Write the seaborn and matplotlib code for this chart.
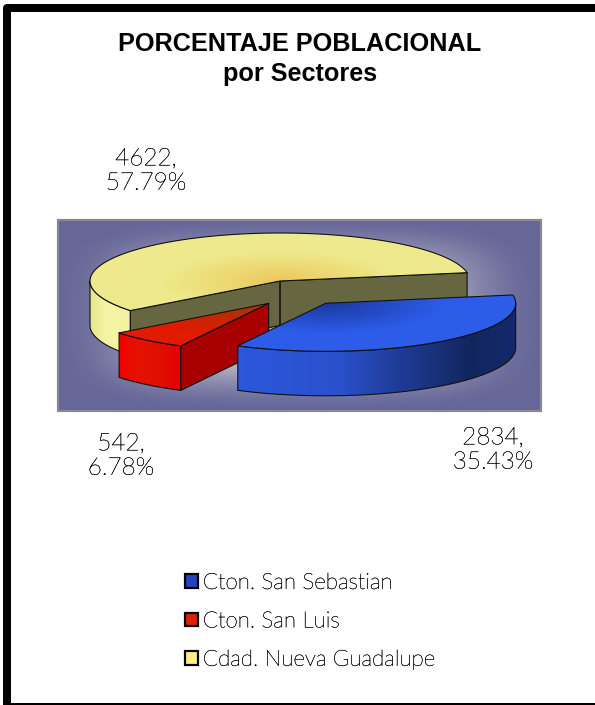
import numpy as np
import matplotlib
matplotlib.use("Agg")
import matplotlib.pyplot as plt
import matplotlib.patheffects as pe
from matplotlib.colors import to_rgb
from matplotlib.patches import Polygon, Patch
import seaborn as sns

# ---- data ----
sectors = ["Cton. San Sebastian", "Cton. San Luis", "Cdad. Nueva Guadalupe"]
population = [2834, 542, 4622]
legend_colors = ["#2244BB", "#DD2200", "#FFEE88"]

sns.set_theme(style="white", rc={"axes.grid": False})
palette = sns.color_palette(legend_colors)
LABEL_FONT = {"family": "Lato", "weight": "light"}
INK = [pe.withStroke(linewidth=0.22, foreground="black")]

W, H = 595, 705
fig = plt.figure(figsize=(W / 100, H / 100), dpi=100, facecolor="white")
ax = fig.add_axes([0, 0, 1, 1])
ax.set_xlim(0, W)
ax.set_ylim(H, 0)
ax.axis("off")
px = 72 / 100

# pie layout (pixels)
A, B, DEPTH = 190.0, 48.0, 44.5
START = 10.0
centers = {0: (325.7, 303.3), 1: (268.7, 303.3), 2: (280.0, 281.0)}

vals = np.array(population, float)
sweep = vals / vals.sum() * 360.0
edges = START - np.concatenate([[0], np.cumsum(sweep)])
spans = [(edges[i + 1] % 360, edges[i] % 360) for i in range(3)]
spans = [(a, b if b > a else b + 360) for a, b in spans]


def rim(c, t, dy=0.0):
    t = np.radians(t)
    return np.column_stack([c[0] + A * np.cos(t), c[1] - B * np.sin(t) + dy])


def hex2(c):
    return np.array(to_rgb(c))


def gradient_fill(poly, colorfn, z):
    xs, ys = poly[:, 0], poly[:, 1]
    l, r, t, b = xs.min() - 1, xs.max() + 1, ys.min() - 1, ys.max() + 1
    nx, ny = int(r - l) * 2 + 2, int(b - t) * 2 + 2
    X, Y = np.meshgrid(np.linspace(l, r, nx), np.linspace(t, b, ny))
    im = ax.imshow(colorfn(X, Y), extent=(l, r, b, t), origin="upper", aspect="auto",
                   zorder=z, interpolation="bilinear")
    patch = Polygon(poly, closed=True, facecolor="none", edgecolor="#111111",
                    lw=1.1 * px, zorder=z + 0.1, joinstyle="round")
    ax.add_patch(patch)
    im.set_clip_path(Polygon(poly, closed=True, transform=ax.transData))
    return im


def stops_x(xp, cols):
    arr = np.array([hex2(c) for c in cols])
    def fn(X, Y):
        return np.stack([np.interp(X, xp, arr[:, k]) for k in range(3)], axis=-1)
    return fn


def radial(c, inner, outer, reach):
    i, o = hex2(inner), hex2(outer)
    def fn(X, Y):
        r = np.hypot((X - c[0]) / A, (Y - c[1]) / B)
        f = np.clip(r / reach, 0, 1)[..., None]
        return i + (o - i) * f
    return fn


def top_poly(c, a, b):
    return np.vstack([[c], rim(c, np.linspace(a, b, 160))])


def wall_poly(c, a, b):
    ts = np.linspace(a, b, 120)
    return np.vstack([rim(c, ts), rim(c, ts[::-1], DEPTH)])


def cut_poly(c, t):
    p = rim(c, np.array([t]))[0]
    return np.array([c, p, p + [0, DEPTH], [c[0], c[1] + DEPTH]])


# background panel with a soft rectangular gradient
px0, px1, py0, py1 = 58.0, 541.0, 220.0, 410.5
gx, gy = np.meshgrid(np.linspace(-1, 1, 480), np.linspace(-1, 1, 190))
g = np.clip(1 - (np.abs(gx) ** 4 + np.abs(gy) ** 4) ** 0.25, 0, 1)[..., None]
base, light = hex2("#666699"), hex2("#B0B0C0")
ax.imshow(base + (light - base) * np.clip(g * 2.3, 0, 1) ** 1.5, extent=(px0, px1, py1, py0),
          origin="upper", aspect="auto", zorder=1)
ax.add_patch(Polygon([[px0, py0], [px1, py0], [px1, py1], [px0, py1]], closed=True,
                     facecolor="none", edgecolor="#8A8A8A", lw=2.2 * px, zorder=1.5))

# Nueva Guadalupe (yellow)
c = centers[2]
a, b = spans[2]
gradient_fill(wall_poly(c, 180, b), stops_x([91, 105, 135], ["#E6E68C", "#F4F4A6", "#F2F2A0"]), 2)
for t in (b, a):
    gradient_fill(cut_poly(c, t), stops_x([0, 600], ["#666640", "#666640"]), 2.2)
gradient_fill(top_poly(c, a, b), radial(c, "#EBC85A", "#EEEA8C", 0.62), 2.5)

# San Luis (red)
c = centers[1]
a, b = spans[1]
gradient_fill(wall_poly(c, a, b), stops_x([119, 132, 160, 181], ["#F40000", "#E81000", "#DE1000", "#E60000"]), 3)
gradient_fill(cut_poly(c, b), stops_x([0, 600], ["#A80000", "#A80000"]), 3.1)
gradient_fill(top_poly(c, a, b), radial(c, "#A03800", "#E21A00", 0.75), 3.5)

# San Sebastian (blue)
c = centers[0]
a, b = spans[0]
gradient_fill(wall_poly(c, a, 360), stops_x([239, 340, 400, 470, 516],
              ["#2B58DC", "#2A50CC", "#1E3C96", "#12265E", "#14296A"]), 4)
gradient_fill(top_poly(c, a, b), radial(c, "#1C389E", "#2C5CE8", 0.62), 4.5)

# value labels
label_pos = [(493, 450), (121, 456), (146, 171)]
for v, (x, y) in zip(population, label_pos):
    ax.text(x, y, f"{v},\n{v / vals.sum() * 100:.2f}%", ha="center", va="center",
            fontsize=17.5, color="black", linespacing=1.2, zorder=6, path_effects=INK, **LABEL_FONT)

# title
ax.text(300, 59, "PORCENTAJE POBLACIONAL\npor Sectores", ha="center", va="center",
        fontsize=18.2, fontweight="bold", family="Liberation Sans", color="black",
        linespacing=1.3, zorder=6)

# legend
handles = [Patch(facecolor=col, edgecolor="black", lw=2.2 * px) for col in palette]
leg = ax.legend(handles, sectors, loc="upper left", bbox_to_anchor=(176 / W, 1 - 564 / H),
                frameon=False, handlelength=0.58, handleheight=0.58, handletextpad=0.22,
                labelspacing=0.825, borderpad=0.4, borderaxespad=0,
                prop={"family": "Lato", "weight": "light", "size": 16.1}, labelcolor="black")
for txt in leg.get_texts():
    txt.set_path_effects(INK)

# outer frame (runs off the right-hand side)
ax.plot([6.5, 6.5, 595], [704.5, 8, 8], color="black", lw=8 * px,
        solid_joinstyle="round", zorder=10)
ax.plot([6.5, 595], [704, 704], color="black", lw=2 * px, zorder=10)
ax.set_xlim(0, W)
ax.set_ylim(H, 0)

fig.savefig("out.png", dpi=100, facecolor="white")
